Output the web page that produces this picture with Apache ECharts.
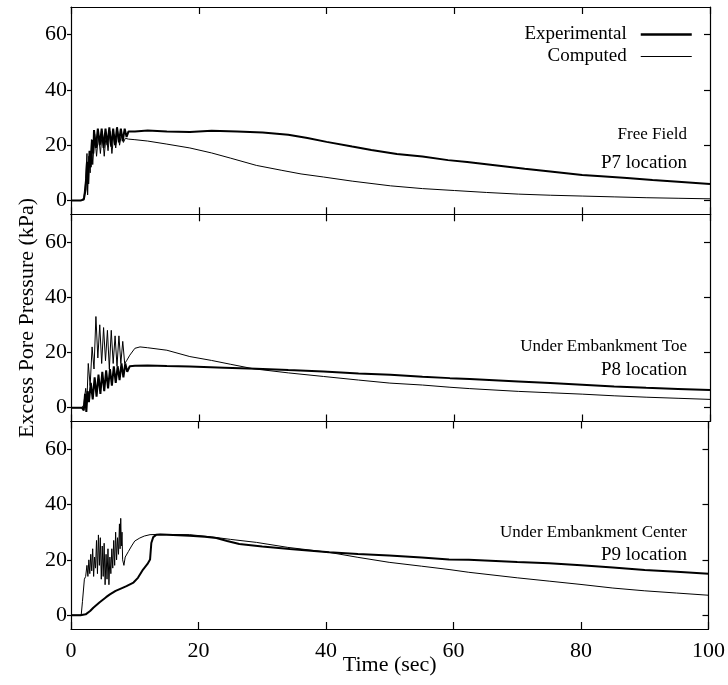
<!DOCTYPE html>
<html><head><meta charset="utf-8">
<script src="https://cdn.jsdelivr.net/npm/echarts@6/dist/echarts.min.js"></script>
<style>html,body{margin:0;padding:0;background:#fff}#c{width:728px;height:685px}</style>
</head><body><div id="c"></div>
<script>
// ---- data (time in sec, excess pore pressure in kPa) ----
const xTicks = [0, 20, 40, 60, 80, 100];
const yTicks = [0, 20, 40, 60];
const seriesNames = ['Experimental', 'Computed'];
const panelLabels = ['Free Field', 'Under Embankment Toe', 'Under Embankment Center'];
const panelLocations = ['P7 location', 'P8 location', 'P9 location'];

const p7ExpT = [0,1.5,2.0,2.3,2.5,2.7,2.9,3.1,3.3,3.5,3.6,3.9,4.2,4.5,4.8,5.1,5.4,5.7,6.0,6.3,6.6,6.9,7.2,7.5,7.8,8.1,8.4,8.7,9.0,10,12,15,18.6,22,26,30,34,37,40,44,47,51,55,59,62,67,71,75,80,83,87,91,95,100];
const p7ExpV = [0,0,0.3,4,14,6,18,12,22,17,25.5,19,26,20,26,19,26,20,26.5,19.5,26,20,26.5,21,26,21.5,26,23,25,25,25.3,25,24.8,25.2,25,24.6,23.8,22.6,21.2,19.5,18.3,16.8,15.9,14.6,13.9,12.6,11.5,10.5,9.2,8.8,8.1,7.4,6.8,6.0];
const p7ComT = [0,1.6,2.0,2.3,2.5,2.6,2.8,3.0,3.2,3.4,3.7,4.0,4.3,4.6,4.9,5.2,5.5,5.8,6.1,6.4,6.7,7.0,7.3,7.6,7.9,8.2,8.5,9,10,12,15,18.6,22,25,29,33,36,39.5,44,50,55,60,65,70,75,80,85,90,95,100];
const p7ComV = [0,0,1,8,17,2,16,10,22,13,24,16,24,17,25,16,24,18,25,17,24,19,25,20,24,21,22.5,22.2,22,21.5,20.4,19,17.2,15.3,12.7,10.9,9.6,8.5,7,5.3,4.3,3.6,2.9,2.3,1.9,1.6,1.3,1.0,0.8,0.6];

const p8ExpT = [0,1.7,2.0,2.2,2.4,2.6,2.8,3.1,3.4,3.7,4.0,4.3,4.6,4.9,5.2,5.5,5.8,6.1,6.4,6.7,7.0,7.3,7.6,7.9,8.2,8.5,8.8,9.2,10,12,15,18.6,24,29,34,39.5,45,50,55,59.3,62.4,70,75,80,85,90,95,100];
const p8ExpV = [0,0,-1,5,-1.5,6,2,9,3,11,4,12,5,13,6,13.5,7,14,8,15,9,15,10,16,11,16,13,15,15.2,15.3,15.1,14.9,14.5,14.1,13.6,13.1,12.4,11.9,11.2,10.7,10.4,9.5,8.9,8.3,7.7,7.2,6.8,6.4];
const p8ComT = [0,1.7,2.0,2.3,2.5,2.7,3.0,3.3,3.6,3.9,4.2,4.5,4.8,5.1,5.4,5.7,6.0,6.3,6.6,6.9,7.2,7.5,7.8,8.1,8.4,8.7,9.2,10,10.8,12,15,18.6,22,25,28.5,34,39.5,45,49.9,55,59.3,62.4,70,75,80,85,90,95,100];
const p8ComV = [0,0,1,7,3,16,8,22,14,33,18,30,16,29,17,28,14,28,16,26,15,26,16,24,16,17,19,21.5,22,21.7,20.8,18.5,17.1,15.7,14.1,12.6,11.3,10,8.9,8.2,7.4,6.9,5.9,5.4,4.9,4.3,3.8,3.4,3.0];

const p9ExpT = [0,1.5,2.3,3.0,3.5,4.5,5.5,6.1,7,8,8.7,9.8,10.5,11.3,12,12.4,12.6,12.9,13.4,14,16,18.6,21,22.8,24.5,26.4,30,34.3,40.5,45,49.9,55,59.3,62.4,70,75,80,85,90,95,100];
const p9ExpV = [0,0,0.3,1.5,2.7,4.7,6.5,7.5,8.8,9.8,10.5,11.8,13.5,16.5,18.5,20.1,26.1,28.2,29.1,29.2,29,28.7,28.3,27.9,26.8,25.7,24.8,23.9,22.7,22.1,21.6,20.8,20.1,20,19.2,18.8,18.0,17.2,16.3,15.7,15.0];
const p9ComT = [0,1.6,1.8,2.1,2.3,2.5,2.65,2.8,2.95,3.1,3.25,3.4,3.55,3.7,3.85,4.0,4.15,4.3,4.45,4.6,4.75,4.9,5.05,5.2,5.35,5.5,5.65,5.8,5.95,6.1,6.25,6.4,6.55,6.7,6.85,7.0,7.15,7.3,7.45,7.6,7.7,7.8,7.9,8.0,8.1,8.3,8.5,9.0,9.5,10,10.8,11.5,12.4,14,18.6,22,25,29.1,34,40.5,45,49.9,55,59.3,62.4,70,75,80,85,90,95,100];
const p9ComV = [0,0,5,13,14,18,14,20,15,22,16,24,14,21,17,27,15,29,18,28,13,25,14,26,11,22,13,24,11,21,15,24,17,27,18,30,20,28,22,33,24,35,25,30,20,18,21,23,25,26.8,27.9,28.6,29.1,29.2,29.1,28.3,27.4,26.3,24.5,22.7,20.9,19.1,17.7,16.5,15.5,13.5,12.3,11.1,9.8,8.8,8.0,7.2];

const zip = (t, v) => t.map((x, i) => [x, v[i]]);
const panels = [
  { exp: zip(p7ExpT, p7ExpV), com: zip(p7ComT, p7ComV) },
  { exp: zip(p8ExpT, p8ExpV), com: zip(p8ComT, p8ComV) },
  { exp: zip(p9ExpT, p9ExpV), com: zip(p9ComT, p9ComV) }
];

// ---- layout ----
const FONT = "'Liberation Serif', 'Times New Roman', serif";
const gridDefs = [{ top: 7, height: 207.3 }, { top: 214.3, height: 207.2 }, { top: 421.5, height: 207.5 }];
const axisLine = { show: true, onZero: false, lineStyle: { color: '#000', width: 1.2 } };
const tickLine = { color: '#000', width: 1.2 };
const EXP_W = 2, COM_W = 1;

const grid = gridDefs.map(g => ({ left: 71, width: 639, top: g.top, height: g.height }));
const xAxis = [], yAxis = [], series = [];
gridDefs.forEach((g, i) => {
  const last = i === 2;
  xAxis.push({
    gridIndex: i, type: 'value', min: 0, max: 100, interval: 20, position: 'bottom',
    axisLine, splitLine: { show: false },
    axisTick: { show: true, inside: true, length: 7, customValues: xTicks, lineStyle: tickLine },
    axisLabel: { show: last, customValues: xTicks, color: '#000', fontFamily: FONT, fontSize: 22, margin: 11 },
    name: last ? 'Time (sec)' : '', nameLocation: 'middle', nameGap: 25, nameMoveOverlap: false,
    nameTextStyle: { color: '#000', fontFamily: FONT, fontSize: 22 }
  });
  xAxis.push({
    gridIndex: i, type: 'value', min: 0, max: 100, interval: 20, position: 'top',
    axisLine, splitLine: { show: false },
    axisTick: { show: true, inside: true, length: 7, customValues: xTicks, lineStyle: tickLine },
    axisLabel: { show: false }
  });
  yAxis.push({
    gridIndex: i, type: 'value', min: -5, max: 70, position: 'left',
    axisLine, splitLine: { show: false },
    axisTick: { show: true, inside: false, length: 4, customValues: yTicks, lineStyle: tickLine },
    axisLabel: { show: true, customValues: yTicks, color: '#000', fontFamily: FONT, fontSize: 22, margin: 4 },
    name: i === 1 ? 'Excess Pore Pressure (kPa)' : '', nameLocation: 'middle', nameGap: 33, nameMoveOverlap: false,
    nameTextStyle: { color: '#000', fontFamily: FONT, fontSize: 22 }
  });
  yAxis.push({
    gridIndex: i, type: 'value', min: -5, max: 70, position: 'right',
    axisLine, splitLine: { show: false },
    axisTick: { show: true, inside: true, length: 6, customValues: yTicks, lineStyle: tickLine },
    axisLabel: { show: false }
  });
  series.push({
    name: seriesNames[0], type: 'line', xAxisIndex: 2 * i, yAxisIndex: 2 * i,
    data: panels[i].exp, symbol: 'none', showSymbol: false,
    lineStyle: { color: '#000', width: EXP_W }, itemStyle: { color: '#000' }, z: 3
  });
  series.push({
    name: seriesNames[1], type: 'line', xAxisIndex: 2 * i, yAxisIndex: 2 * i,
    data: panels[i].com, symbol: 'none', showSymbol: false,
    lineStyle: { color: '#000', width: COM_W }, itemStyle: { color: '#000' }, z: 4
  });
});

const labelY = [[133, 161], [345, 368], [531, 553]];
const graphic = [];
labelY.forEach((ys, i) => {
  graphic.push({ type: 'text', right: 41, top: ys[0] - 7,
    style: { text: panelLabels[i], font: '17px ' + FONT, fill: '#000' } });
  graphic.push({ type: 'text', right: 41, top: ys[1] - 7,
    style: { text: panelLocations[i], font: '19px ' + FONT, fill: '#000' } });
});

const chart = echarts.init(document.getElementById('c'), null, { renderer: 'canvas' });
chart.setOption({
  animation: false,
  backgroundColor: '#fff',
  grid, xAxis, yAxis, series, graphic,
  legend: {
    data: [
      { name: seriesNames[0], lineStyle: { width: 2.5, color: '#000' } },
      { name: seriesNames[1], lineStyle: { width: 1, color: '#000' } }
    ],
    orient: 'vertical', align: 'right', right: 30, top: 20,
    itemWidth: 51, itemHeight: 14, itemGap: 3,
    itemStyle: { opacity: 0 },
    textStyle: { color: '#000', fontFamily: FONT, fontSize: 19, padding: [0, 9, 0, 0] }
  }
});
</script>
</body></html>
